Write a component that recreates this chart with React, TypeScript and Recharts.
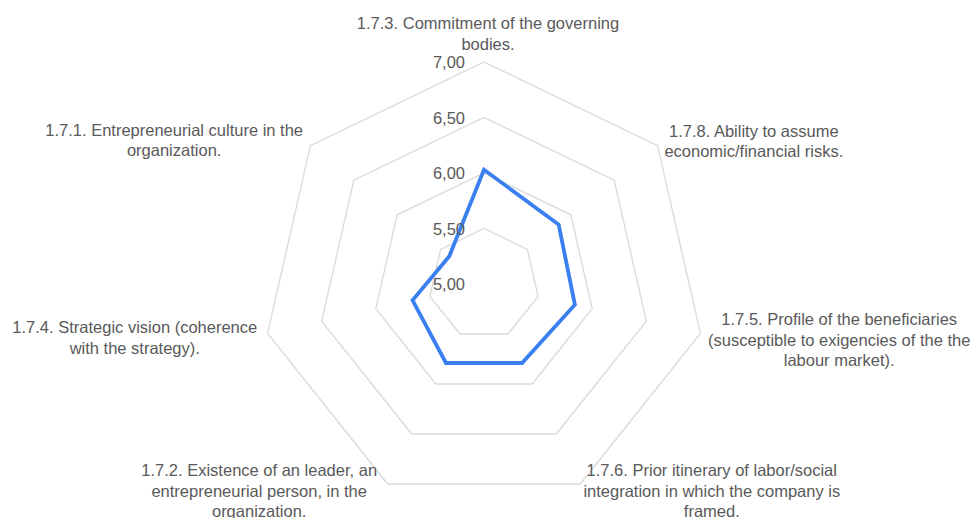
import { RadarChart, Radar, PolarGrid, PolarAngleAxis, PolarRadiusAxis } from 'recharts';

// clockwise from the top
const categories = [
  '1.7.3. Commitment of the governing\nbodies.',
  '1.7.8. Ability to assume\neconomic/financial risks.',
  '1.7.5. Profile of the beneficiaries\n(susceptible to exigencies of the the\nlabour market).',
  '1.7.6. Prior itinerary of labor/social\nintegration in which the company is\nframed.',
  '1.7.2. Existence of an leader, an\nentrepreneurial person, in the\norganization.',
  '1.7.4. Strategic vision (coherence\nwith the strategy).',
  '1.7.1. Entrepreneurial culture in the\norganization.',
];

const scores = [6.03, 5.86, 5.84, 5.79, 5.79, 5.66, 5.4];

const radiusTicks = [5, 5.5, 6, 6.5, 7];

const data = categories.map((name, i) => ({ name, score: scores[i] }));

// label block placement relative to the angle tick point (center x, first line y)
const labelOffsets = [
  { dx: 4, dy: -31 },
  { dx: 90, dy: -10 },
  { dx: 131, dy: -16 },
  { dx: 128, dy: -21 },
  { dx: -125, dy: -21 },
  { dx: -125, dy: -8 },
  { dx: -130, dy: -11 },
];

const TEXT = '#595959';
const FONT = '"Liberation Sans", Arial, sans-serif';

function AngleTick(props: any) {
  const { x, y, index, payload } = props;
  const off = labelOffsets[index] ?? { dx: 0, dy: 0 };
  const lines = String(payload.value).split('\n');
  return (
    <text
      x={x + off.dx}
      y={y + off.dy}
      textAnchor="middle"
      dominantBaseline="central"
      fill={TEXT}
      fontSize={16.5}
      fontFamily={FONT}
    >
      {lines.map((line, i) => (
        <tspan key={i} x={x + off.dx} dy={i === 0 ? 0 : 20.5}>
          {line}
        </tspan>
      ))}
    </text>
  );
}

function RadiusTick(props: any) {
  const { x, y, payload } = props;
  return (
    <text
      x={x - 19}
      y={y}
      textAnchor="end"
      dominantBaseline="central"
      fill={TEXT}
      fontSize={16.5}
      fontFamily={FONT}
    >
      {Number(payload.value).toFixed(2).replace('.', ',')}
    </text>
  );
}

export default function App() {
  return (
    <div style={{ position: 'absolute', left: 0, top: 0, width: 975, height: 518, background: '#fff' }}>
      <RadarChart
        width={975}
        height={518}
        data={data}
        cx={484}
        cy={284}
        outerRadius={222}
        margin={{ top: 0, right: 0, bottom: 0, left: 0 }}
      >
        <PolarGrid gridType="polygon" radialLines={false} stroke="#d9d9d9" strokeWidth={1.3} />
        <PolarAngleAxis dataKey="name" tick={<AngleTick />} tickLine={false} axisLine={false} />
        <PolarRadiusAxis
          angle={90}
          domain={[5, 7]}
          ticks={radiusTicks as any}
          tickCount={5}
          axisLine={false}
          tickLine={false}
          tick={<RadiusTick />}
        />
        <Radar
          dataKey="score"
          stroke="#3a7ff0"
          strokeWidth={3.8}
          fill="none"
          fillOpacity={0}
          dot={false}
          isAnimationActive={false}
        />
      </RadarChart>
    </div>
  );
}
